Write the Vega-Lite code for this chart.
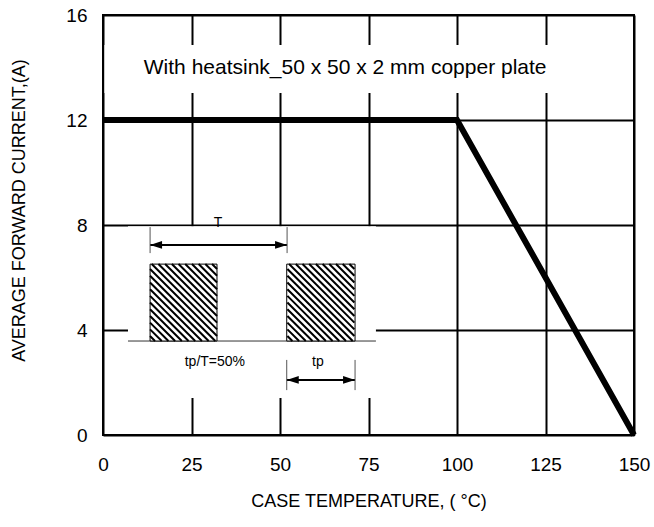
{
  "$schema": "https://vega.github.io/schema/vega-lite/v6.json",
  "width": 531,
  "height": 420,
  "autosize": {"type": "none"},
  "padding": {"left": 103, "top": 15, "right": 20, "bottom": 92},
  "background": "white",
  "config": {
    "font": "Liberation Sans",
    "view": {"stroke": "black", "strokeWidth": 2},
    "axis": {
      "grid": true, "gridColor": "black", "gridWidth": 2, "gridOpacity": 1,
      "ticks": false, "domain": false, "labelFlush": false,
      "labelFont": "Liberation Sans", "labelFontSize": 19, "labelColor": "black",
      "titleFont": "Liberation Sans", "titleFontSize": 18, "titleFontWeight": "normal", "titleColor": "black"
    }
  },
  "datasets": {
    "curve": [
      {"temp": 0, "current": 12},
      {"temp": 100, "current": 12},
      {"temp": 150, "current": 0}
    ],
    "boxes": [
      {"x": 0.4, "x2": 149.6, "y": 13.03, "y2": 14.86},
      {"x": 7.06, "x2": 77.1, "y": 1.41, "y2": 7.95}
    ],
    "baseline": [{"x": 7.06, "x2": 77.1, "y": 3.58}],
    "pulses": [
      {"x": 13.3, "x2": 32.2, "y": 3.58, "y2": 6.51, "cx": 22.75, "cy": 5.045},
      {"x": 51.9, "x2": 71.2, "y": 3.58, "y2": 6.51, "cx": 61.55, "cy": 5.045}
    ],
    "arrows": [
      {"x": 13.3, "x2": 52.0, "y": 7.24},
      {"x": 51.9, "x2": 71.2, "y": 2.10}
    ],
    "arrowTicks": [
      {"x": 13.3, "y": 6.93, "y2": 7.92},
      {"x": 52.0, "y": 6.93, "y2": 7.92},
      {"x": 51.9, "y": 1.71, "y2": 2.86},
      {"x": 71.2, "y": 1.71, "y2": 2.86}
    ],
    "heads": [
      {"x": 13.3, "y": 7.24, "dir": "left"},
      {"x": 52.0, "y": 7.24, "dir": "right"},
      {"x": 51.9, "y": 2.10, "dir": "left"},
      {"x": 71.2, "y": 2.10, "dir": "right"}
    ],
    "bigText": [{"x": 68.4, "y": 13.98, "label": "With heatsink_50 x 50 x 2 mm copper plate"}],
    "smallText": [
      {"x": 32.5, "y": 8.08, "label": "T"},
      {"x": 31.6, "y": 2.79, "label": "tp/T=50%"},
      {"x": 60.7, "y": 2.79, "label": "tp"}
    ]
  },
  "layer": [
    {
      "data": {"name": "boxes"},
      "mark": {"type": "rect", "fill": "white", "stroke": null},
      "encoding": {
        "x": {"field": "x", "type": "quantitative", "scale": {"domain": [0, 150], "nice": false},
              "axis": {"values": [0, 25, 50, 75, 100, 125, 150], "title": "CASE TEMPERATURE, ( °C)", "labelPadding": 20, "titleY": 66, "titleBaseline": "middle"}},
        "x2": {"field": "x2"},
        "y": {"field": "y", "type": "quantitative", "scale": {"domain": [0, 16], "nice": false},
              "axis": {"values": [0, 4, 8, 12, 16], "title": "AVERAGE FORWARD CURRENT,(A)", "labelPadding": 16, "titleX": -84, "titleY": 195, "titleAlign": "center", "titleBaseline": "middle"}},
        "y2": {"field": "y2"}
      }
    },
    {
      "data": {"name": "curve"},
      "mark": {"type": "line", "color": "black", "strokeWidth": 6, "strokeCap": "butt", "strokeJoin": "miter"},
      "encoding": {
        "x": {"field": "temp", "type": "quantitative"},
        "y": {"field": "current", "type": "quantitative"}
      }
    },
    {
      "data": {"name": "baseline"},
      "mark": {"type": "rule", "color": "#333333", "strokeWidth": 1},
      "encoding": {
        "x": {"field": "x", "type": "quantitative"},
        "x2": {"field": "x2"},
        "y": {"field": "y", "type": "quantitative"}
      }
    },
    {
      "data": {"name": "pulses"},
      "mark": {"type": "rect", "fill": "white", "stroke": "black", "strokeWidth": 1},
      "encoding": {
        "x": {"field": "x", "type": "quantitative"},
        "x2": {"field": "x2"},
        "y": {"field": "y", "type": "quantitative"},
        "y2": {"field": "y2"}
      }
    },
    {
      "data": {"name": "pulses"},
      "mark": {"type": "point", "filled": false, "stroke": "black", "strokeWidth": 2, "opacity": 1, "size": 5929,
               "shape": "M0.74,-1L0.87,-0.87M0.566,-1L0.87,-0.696M0.392,-1L0.87,-0.522M0.218,-1L0.87,-0.348M0.044,-1L0.87,-0.174M-0.13,-1L0.87,0M-0.304,-1L0.87,0.174M-0.478,-1L0.87,0.348M-0.652,-1L0.87,0.522M-0.826,-1L0.87,0.696M-0.87,-0.87L0.87,0.87M-0.87,-0.696L0.826,1M-0.87,-0.522L0.652,1M-0.87,-0.348L0.478,1M-0.87,-0.174L0.304,1M-0.87,0L0.13,1M-0.87,0.174L-0.044,1M-0.87,0.348L-0.218,1M-0.87,0.522L-0.392,1M-0.87,0.696L-0.566,1M-0.87,0.87L-0.74,1"},
      "encoding": {
        "x": {"field": "cx", "type": "quantitative"},
        "y": {"field": "cy", "type": "quantitative"}
      }
    },
    {
      "data": {"name": "arrows"},
      "mark": {"type": "rule", "color": "black", "strokeWidth": 2},
      "encoding": {
        "x": {"field": "x", "type": "quantitative"},
        "x2": {"field": "x2"},
        "y": {"field": "y", "type": "quantitative"}
      }
    },
    {
      "data": {"name": "arrowTicks"},
      "mark": {"type": "rule", "color": "#555555", "strokeWidth": 1},
      "encoding": {
        "x": {"field": "x", "type": "quantitative"},
        "y": {"field": "y", "type": "quantitative"},
        "y2": {"field": "y2"}
      }
    },
    {
      "data": {"name": "heads"},
      "mark": {"type": "point", "filled": true, "color": "black", "opacity": 1, "size": 144},
      "encoding": {
        "x": {"field": "x", "type": "quantitative"},
        "y": {"field": "y", "type": "quantitative"},
        "shape": {"field": "dir", "type": "nominal", "legend": null,
                  "scale": {"domain": ["left", "right"], "range": ["M0,0L2,-0.65L2,0.65Z", "M0,0L-2,-0.65L-2,0.65Z"]}}
      }
    },
    {
      "data": {"name": "bigText"},
      "mark": {"type": "text", "fontSize": 21, "color": "black", "font": "Liberation Sans", "align": "center", "baseline": "middle"},
      "encoding": {
        "x": {"field": "x", "type": "quantitative"},
        "y": {"field": "y", "type": "quantitative"},
        "text": {"field": "label"}
      }
    },
    {
      "data": {"name": "smallText"},
      "mark": {"type": "text", "fontSize": 14, "color": "black", "font": "Liberation Sans", "align": "center", "baseline": "middle"},
      "encoding": {
        "x": {"field": "x", "type": "quantitative"},
        "y": {"field": "y", "type": "quantitative"},
        "text": {"field": "label"}
      }
    }
  ]
}
